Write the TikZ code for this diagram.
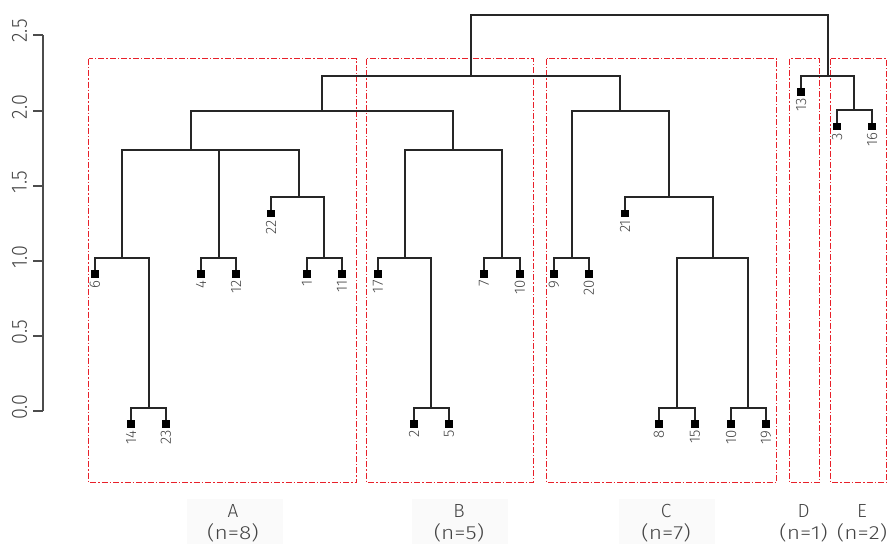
\documentclass[tikz,border=0pt]{standalone}
\usepackage{fontspec}
\setmainfont{Fira Sans Light}
\usetikzlibrary{calc}
\definecolor{txt}{HTML}{444444}
\definecolor{boxred}{HTML}{E8202A}
\begin{document}
\begin{tikzpicture}[x=1pt,y=-1pt,
  br/.style={draw=black!85,line width=1.5pt,line cap=rect},
  leafsq/.style={fill=black,inner sep=0pt,minimum size=7pt,draw=none},
  leaflab/.style={text=txt,font=\fontsize{15}{15}\selectfont,rotate=90,anchor=east,inner sep=0pt},
  axlab/.style={text=txt,font=\fontsize{22}{22}\selectfont,rotate=90,inner sep=0pt},
  grplab/.style={text=txt,font=\fontsize{19}{19}\selectfont,inner sep=0pt,align=center},
  grpbox/.style={draw=boxred,line width=1pt,dash pattern=on 6pt off 2pt on 1.5pt off 2pt},
  shade/.style={fill=black!2,draw=none}
]
\useasboundingbox (0,0) rectangle (890,544);
% faint label backgrounds
\fill[shade] (187,499) rectangle (283,544);
\fill[shade] (412,499) rectangle (508,544);
\fill[shade] (619,499) rectangle (715,544);
% axis
\draw[black!70,line width=1.2pt] (43,35) -- (43,411);
\foreach \v/\y in {0.0/411,0.5/336,1.0/261,1.5/186,2.0/111,2.5/35}{
  \draw[black!70,line width=1.2pt] (33,\y) -- (43,\y);
  \node[axlab] at (19.5,\y-4) {\scalebox{0.9}[1]{\v}};
}
% group boxes
\draw[grpbox] (88.5,58.5) rectangle (356.5,482.5);
\draw[grpbox] (366.5,58.5) rectangle (533.5,482.5);
\draw[grpbox] (546.5,58.5) rectangle (776.5,482.5);
\draw[grpbox] (789.5,58.5) rectangle (819.5,482.5);
\draw[grpbox] (830.5,58.5) rectangle (886.5,482.5);
% leaves
\foreach \n/\t/\x/\y in {l6/6/95/274, l14/14/131/424, l23/23/166/424, l4/4/201/274, l12/12/236/274,
  l22/22/271/213.5, l1/1/307/274, l11/11/342/274, l17/17/378/274, l2/2/414/424, l5/5/449/424,
  l7/7/484/274, l10/10/520/274, l9/9/554/274, l20/20/589/274, l21/21/625/213.5,
  l8/8/659/424, l15/15/695/424, l10b/10/731/424, l19/19/766/424, l13/13/801/92,
  l3/3/837/126.5, l16/16/872/126.5}{
  \node[leafsq] (\n) at (\x,\y) {};
  \node[leaflab] (\n t) at ($(\n.south)+(0,2.5)$) {\t};
}
% internal nodes (coordinates)
\coordinate (a1) at (149,408);
\coordinate (a2) at (122,258);
\coordinate (a3) at (219,258);
\coordinate (a4) at (324,258);
\coordinate (a5) at (299,197);
\coordinate (aA) at (191,150);
\coordinate (b1) at (431,408);
\coordinate (b2) at (405,258);
\coordinate (b3) at (502,258);
\coordinate (bB) at (453,150);
\coordinate (ab) at (322,111);
\coordinate (c1) at (572,258);
\coordinate (c2) at (677,408);
\coordinate (c3) at (748,408);
\coordinate (c4) at (713,258);
\coordinate (c5) at (669,197);
\coordinate (cC) at (620,111);
\coordinate (abc) at (471,76);
\coordinate (e1) at (854,110);
\coordinate (de) at (828,76);
\coordinate (top) at (649,15);
% branches
\newcommand{\mrg}[3]{\draw[br] (#2.center) |- (#1) -| (#3.center);}
\mrg{a1}{l14}{l23}
\draw[br] (l6.center) |- (a2) -| (a1);
\mrg{a3}{l4}{l12}
\mrg{a4}{l1}{l11}
\draw[br] (l22.center) |- (a5) -| (a4);
\draw[br] (a2) |- (aA) -| (a5);
\draw[br] (a3) -- (a3 |- aA);
\mrg{b1}{l2}{l5}
\draw[br] (l17.center) |- (b2) -| (b1);
\mrg{b3}{l7}{l10}
\draw[br] (b2) |- (bB) -| (b3);
\draw[br] (aA) |- (ab) -| (bB);
\mrg{c1}{l9}{l20}
\mrg{c2}{l8}{l15}
\mrg{c3}{l10b}{l19}
\draw[br] (c2) |- (c4) -| (c3);
\draw[br] (l21.center) |- (c5) -| (c4);
\draw[br] (c1) |- (cC) -| (c5);
\draw[br] (ab) |- (abc) -| (cC);
\mrg{e1}{l3}{l16}
\draw[br] (l13.center) |- (de) -| (e1);
\draw[br] (abc) |- (top) -| (de);
% redraw leaf squares on top
\foreach \n in {l6,l14,l23,l4,l12,l22,l1,l11,l17,l2,l5,l7,l10,l9,l20,l21,l8,l15,l10b,l19,l13,l3,l16}{
  \fill (\n.south west) rectangle (\n.north east);
}
% group labels
\foreach \n/\g/\c/\x in {gA/A/8/233, gB/B/5/459, gC/C/7/666, gD/D/1/803.5, gE/E/2/862}{
  \node[grplab] (\n) at (\x,511) {\g};
  \node[grplab] (\n n) at (\x,533) {\scalebox{1.2}[1]{(n=\c)}};
}
\end{tikzpicture}
\end{document}
